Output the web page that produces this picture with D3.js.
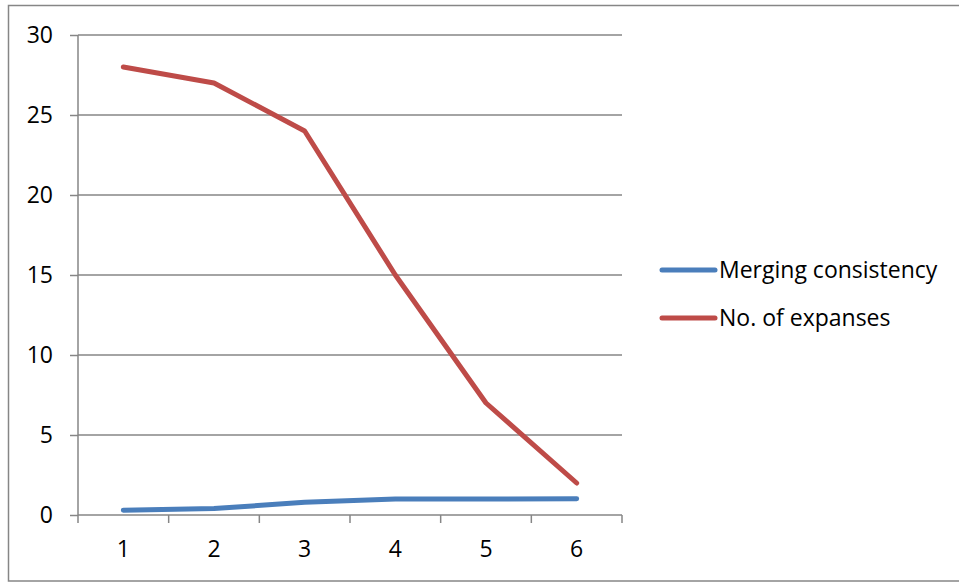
<!DOCTYPE html>
<html><head><meta charset="utf-8">
<script src="https://cdn.jsdelivr.net/npm/d3@7"></script>
<style>html,body{margin:0;padding:0;background:#fff;}svg{display:block;}</style>
</head><body>
<svg id="c" width="959" height="582"></svg>
<script>
const categories = ["1","2","3","4","5","6"];
const mergingConsistency = [0.3, 0.4, 0.8, 1.0, 1.0, 1.02];
const noOfExpanses = [28, 27, 24, 15, 7, 2];
const yTicks = [0, 5, 10, 15, 20, 25, 30];
const seriesNames = ["Merging consistency", "No. of expanses"];
const colors = ["#4a7ebb", "#be4b48"];

(function () {
const svg = d3.select("#c");
const font = "Open Sans, sans-serif";
const fs = 23;
const pLeft = 78, pRight = 622, pTop = 35, pBottom = 515;

svg.append("rect").attr("x", 8.5).attr("y", 5.5).attr("width", 960).attr("height", 575.5)
  .attr("fill", "#fff").attr("stroke", "#868686").attr("stroke-width", 1.5);

const x = d3.scaleBand().domain(categories).range([pLeft, pRight]);
const y = d3.scaleLinear().domain([0, 30]).range([pBottom, pTop]);

// gridlines
svg.append("g").selectAll("line").data(yTicks.filter(d => d > 0)).join("line")
  .attr("x1", pLeft).attr("x2", pRight).attr("y1", d => y(d)).attr("y2", d => y(d))
  .attr("stroke", "#868686").attr("stroke-width", 1.5);

// y axis
const ya = svg.append("g").attr("transform", `translate(${pLeft},0)`)
  .call(d3.axisLeft(y).tickValues(yTicks).tickSize(8).tickPadding(17));
ya.select(".domain").attr("stroke", "#868686").attr("stroke-width", 1.5).attr("d", `M0,${pBottom}V${pTop}`);
ya.selectAll(".tick line").attr("stroke", "#868686").attr("stroke-width", 1.5);
ya.selectAll("text").attr("font-family", font).attr("font-size", fs).attr("fill", "#000");

// x axis
const xa = svg.append("g").attr("transform", `translate(0,${pBottom})`)
  .call(d3.axisBottom(x).tickSize(0).tickPadding(26));
xa.select(".domain").attr("stroke", "#868686").attr("stroke-width", 1.5).attr("d", `M${pLeft},0H${pRight}`);
xa.selectAll("text").attr("font-family", font).attr("font-size", fs).attr("fill", "#000");
const bounds = categories.map(c => x(c)).concat([pRight]);
xa.selectAll(".btick").data(bounds).join("line").attr("class", "btick")
  .attr("x1", d => d).attr("x2", d => d).attr("y1", 0).attr("y2", 8)
  .attr("stroke", "#868686").attr("stroke-width", 1.5);

const line = d3.line().x((d, i) => x(categories[i]) + x.bandwidth() / 2).y(d => y(d));
[mergingConsistency, noOfExpanses].forEach((s, k) => {
  svg.append("path").datum(s).attr("d", line).attr("fill", "none")
    .attr("stroke", colors[k]).attr("stroke-width", 5)
    .attr("stroke-linecap", "round").attr("stroke-linejoin", "round");
});

// legend
const lg = svg.append("g");
seriesNames.forEach((n, k) => {
  const ly = 270 + k * 48;
  lg.append("line").attr("x1", 662).attr("x2", 715).attr("y1", ly).attr("y2", ly)
    .attr("stroke", colors[k]).attr("stroke-width", 5).attr("stroke-linecap", "round");
  lg.append("text").attr("x", 719).attr("y", ly).attr("dy", "0.35em")
    .attr("font-family", font).attr("font-size", fs).attr("fill", "#000").text(n);
});
})();
</script>
</body></html>
